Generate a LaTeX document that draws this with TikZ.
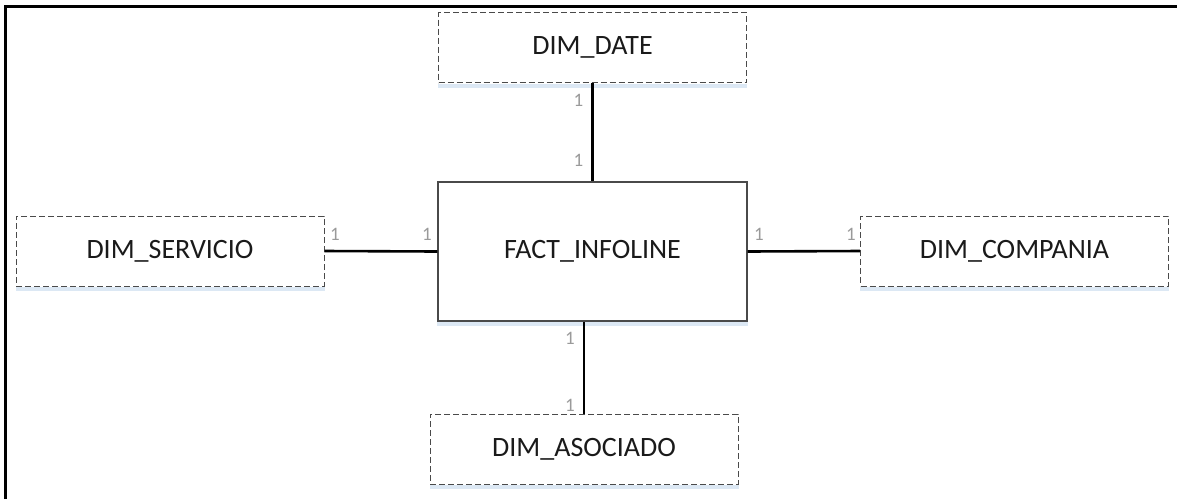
\documentclass[tikz,border=0pt]{standalone}
\usepackage{fontspec}
\setmainfont{Carlito}
\definecolor{boxline}{HTML}{4A4A4A}
\definecolor{cardgray}{HTML}{9A9A9A}
\definecolor{shadowblue}{HTML}{DCE8F4}
\definecolor{txt}{HTML}{1A1A1A}
\tikzset{
  entity/.style={rectangle, draw=boxline, line width=1pt, fill=white,
    font=\fontsize{28}{30}\selectfont, text=txt, inner sep=0pt},
  dimbox/.style={entity, dash pattern=on 6pt off 3pt,
    minimum width=308pt, minimum height=70pt},
  factbox/.style={entity, line width=1.3pt, minimum width=309pt, minimum height=139pt},
  relline/.style={draw=black, line width=2.6pt},
  card/.style={font=\fontsize{19}{20}\selectfont, text=cardgray, inner sep=0pt},
  frameline/.style={draw=black, line width=3pt}
}
\begin{document}
\begin{tikzpicture}[x=1pt, y=-1pt]
  \useasboundingbox (0,0) rectangle (1177,499);
  % outer frame (top and left edges)
  \draw[frameline] (5.5,499) -- (5.5,6.5) -- (1177,6.5);

  % entities
  \node[factbox] (fact) at (592.5,251.5) {FACT\_INFOLINE};
  \node[dimbox]  (date) at (592.5,47.5)  {DIM\_DATE};
  \node[dimbox]  (serv) at (170,251)     {DIM\_SERVICIO};
  \node[dimbox]  (comp) at (1014.5,251)  {DIM\_COMPANIA};
  \node[dimbox]  (asoc) at (584,449)     {DIM\_ASOCIADO};

  % pale strip under each box
  \foreach \n in {fact,date,serv,comp,asoc}
    \fill[shadowblue] ([yshift=-0.6pt]\n.south west) rectangle ([yshift=-4.5pt]\n.south east);

  % relationships
  \draw[relline] (date.south) -- (fact.north);
  \draw[relline] (serv.east) -- (fact.west);
  \draw[relline] (fact.east) -- (comp.west);
  \draw[relline] (asoc.north |- fact.south) -- (asoc.north);

  % cardinalities
  \node[card] (c1) at (578.5,100) {1};
  \node[card] (c2) at (578.5,160) {1};
  \node[card] (c3) at (335,234)   {1};
  \node[card] (c4) at (427,234)   {1};
  \node[card] (c5) at (759,234)   {1};
  \node[card] (c6) at (851,234)   {1};
  \node[card] (c7) at (570,338)   {1};
  \node[card] (c8) at (570,405)   {1};
\end{tikzpicture}
\end{document}
